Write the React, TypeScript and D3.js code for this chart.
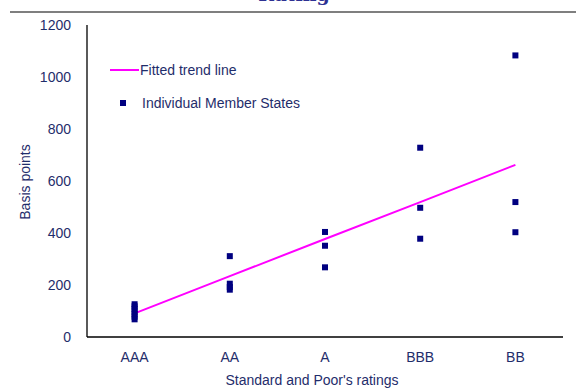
import { useRef, useEffect } from 'react';
import * as d3 from 'd3';

const ratings = ['AAA', 'AA', 'A', 'BBB', 'BB'];
const aaaSpreads = [68, 78, 88, 98, 108, 118, 126];
const aaSpreads = [311, 205, 192, 182];
const aSpreads = [404, 351, 268];
const bbbSpreads = [728, 497, 378];
const bbSpreads = [1083, 519, 403];
const trendValues = [91, 234, 377, 519, 662];
const yTicks = [0, 200, 400, 600, 800, 1000, 1200];

const textColor = '#1f2d6b';

function App() {
  const ref = useRef(null);
  const width = 576;
  const height = 390;

  useEffect(() => {
    const svg = d3.select(ref.current);
    svg.selectAll('*').remove();

    const margin = { top: 25, right: 13, bottom: 53, left: 87 };
    const innerWidth = width - margin.left - margin.right;
    const innerHeight = height - margin.top - margin.bottom;

    // title, mostly cut off at the top
    svg.append('text')
      .attr('x', 294)
      .attr('y', 1)
      .attr('text-anchor', 'middle')
      .style('font-family', '"DejaVu Serif", "Liberation Serif", serif')
      .style('font-weight', 'bold')
      .style('font-size', '19px')
      .attr('fill', '#2e3192')
      .text('Rating');

    svg.append('line')
      .attr('x1', 10).attr('x2', width)
      .attr('y1', 12).attr('y2', 12)
      .attr('stroke', '#000')
      .attr('stroke-width', 1.2);

    const g = svg.append('g')
      .attr('transform', `translate(${margin.left},${margin.top})`);

    const x = d3.scaleBand()
      .domain(ratings)
      .range([0, innerWidth]);

    const y = d3.scaleLinear()
      .domain([0, 1200])
      .range([innerHeight, 0]);

    const font = '"Liberation Sans", Arial, sans-serif';

    // y tick labels
    g.append('g')
      .selectAll('text')
      .data(yTicks)
      .join('text')
      .attr('x', -16)
      .attr('y', d => y(d))
      .attr('dy', '0.35em')
      .attr('text-anchor', 'end')
      .style('font-family', font)
      .style('font-size', '14px')
      .attr('fill', textColor)
      .text(d => d);

    // x tick labels
    g.append('g')
      .selectAll('text')
      .data(ratings)
      .join('text')
      .attr('x', d => x(d) + x.bandwidth() / 2)
      .attr('y', innerHeight + 20)
      .attr('dy', '0.35em')
      .attr('text-anchor', 'middle')
      .style('font-family', font)
      .style('font-size', '14px')
      .attr('fill', textColor)
      .text(d => d);

    // axes
    g.append('line')
      .attr('x1', 0).attr('x2', 0)
      .attr('y1', 0).attr('y2', innerHeight)
      .attr('stroke', '#000').attr('stroke-width', 1.3);
    g.append('line')
      .attr('x1', 0).attr('x2', innerWidth)
      .attr('y1', innerHeight).attr('y2', innerHeight)
      .attr('stroke', '#000').attr('stroke-width', 1.3);

    const cx = (r) => x(r) + x.bandwidth() / 2;

    // trend line
    const line = d3.line()
      .x((d, i) => cx(ratings[i]))
      .y(d => y(d));

    g.append('path')
      .datum(trendValues)
      .attr('d', line)
      .attr('fill', 'none')
      .attr('stroke', '#ff00ff')
      .attr('stroke-width', 2);

    // member states
    const groups = [aaaSpreads, aaSpreads, aSpreads, bbbSpreads, bbSpreads];
    const points = groups.flatMap((vals, i) => vals.map(v => ({ r: ratings[i], v })));
    const s = 6;

    g.append('g')
      .attr('fill', '#000080')
      .selectAll('rect')
      .data(points)
      .join('rect')
      .attr('x', d => cx(d.r) - s / 2)
      .attr('y', d => y(d.v) - s / 2)
      .attr('width', s)
      .attr('height', s);

    // legend
    const legend = svg.append('g').style('font-family', font).style('font-size', '14px');
    legend.append('line')
      .attr('x1', 110).attr('x2', 139)
      .attr('y1', 70).attr('y2', 70)
      .attr('stroke', '#ff00ff').attr('stroke-width', 2);
    legend.append('text')
      .attr('x', 140).attr('y', 70).attr('dy', '0.35em')
      .attr('fill', textColor)
      .text('Fitted trend line');
    legend.append('rect')
      .attr('x', 120).attr('y', 100)
      .attr('width', s).attr('height', s)
      .attr('fill', '#000080');
    legend.append('text')
      .attr('x', 142).attr('y', 103).attr('dy', '0.35em')
      .attr('fill', textColor)
      .text('Individual Member States');

    // axis titles
    svg.append('text')
      .attr('x', 312).attr('y', 380).attr('dy', '0.35em')
      .attr('text-anchor', 'middle')
      .style('font-family', font)
      .style('font-size', '14px')
      .attr('fill', textColor)
      .text("Standard and Poor's ratings");

    svg.append('text')
      .attr('transform', 'translate(25,182) rotate(-90)')
      .attr('dy', '0.35em')
      .attr('text-anchor', 'middle')
      .style('font-family', font)
      .style('font-size', '14px')
      .attr('fill', textColor)
      .text('Basis points');
  }, []);

  return (
    <div style={{ position: 'absolute', left: 0, top: 0 }}>
      <svg ref={ref} width={width} height={height} style={{ display: 'block', background: '#fff' }}></svg>
    </div>
  );
}

export default App;
